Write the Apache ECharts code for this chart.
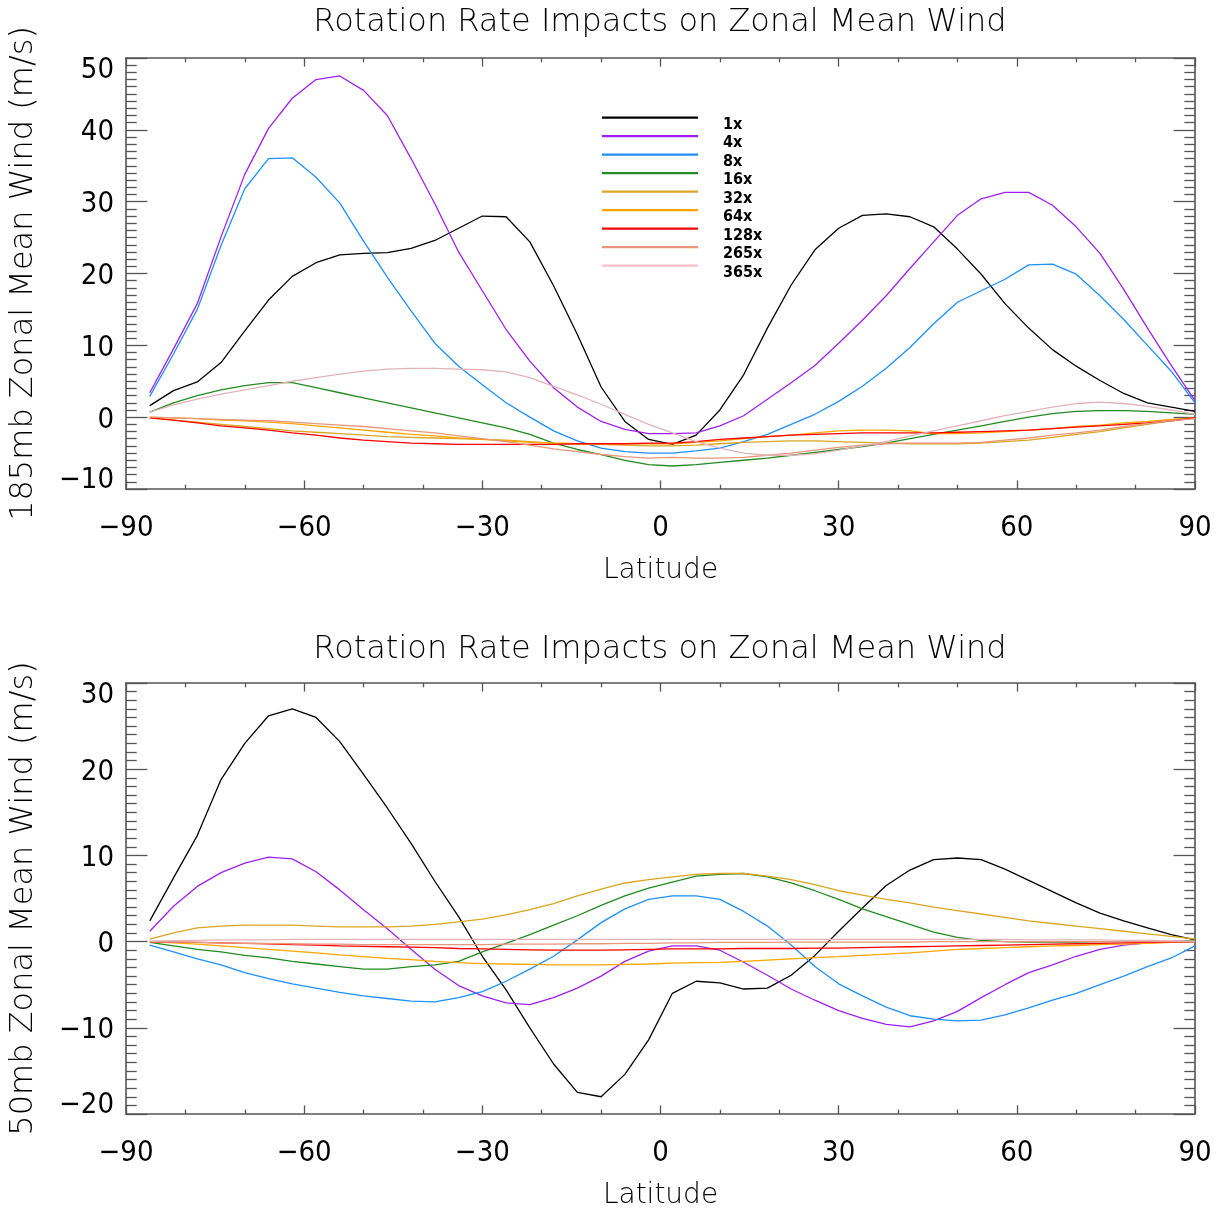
<!DOCTYPE html>
<html>
<head>
<meta charset="utf-8">
<script src="https://cdn.jsdelivr.net/npm/echarts@6/dist/echarts.min.js"></script>
<style>
html,body{margin:0;padding:0;background:#ffffff;}
#chart{width:1222px;height:1213px;}
</style>
</head>
<body>
<div id="chart"></div>
<script>
// ---- data ----
const lat = [-86,-82,-78,-74,-70,-66,-62,-58,-54,-50,-46,-42,-38,-34,-30,-26,-22,-18,-14,-10,-6,-2,
             2,6,10,14,18,22,26,30,34,38,42,46,50,54,58,62,66,70,74,78,82,86,90];

const seriesNames = ['1x','4x','8x','16x','32x','64x','128x','265x','365x'];

// 185 mb zonal mean wind (m/s)
const w185_1x   = [1.6,3.7,4.9,7.6,12.0,16.3,19.6,21.5,22.6,22.8,22.9,23.5,24.6,26.3,28.0,27.9,24.4,18.3,11.5,4.2,-0.6,-3.1,
                   -3.8,-2.5,1.0,5.9,12.4,18.4,23.3,26.3,28.1,28.3,27.9,26.5,23.4,19.9,15.8,12.4,9.4,7.1,5.1,3.3,2.0,1.4,0.8];
const w185_4x   = [3.4,9.5,15.8,25.1,33.8,40.2,44.4,47.0,47.5,45.5,42.0,36.0,29.7,23.0,17.6,12.2,7.8,4.1,1.4,-0.6,-1.7,-2.3,
                   -2.3,-2.2,-1.2,0.2,2.5,4.8,7.2,10.3,13.5,16.9,20.7,24.4,28.1,30.4,31.3,31.3,29.5,26.5,22.8,17.8,12.4,7.2,2.3];
const w185_8x   = [2.9,8.8,15.0,23.9,31.8,36.0,36.1,33.4,29.8,24.5,19.5,14.8,10.3,7.1,4.5,2.0,0.0,-1.9,-3.3,-4.3,-4.8,-5.0,
                   -5.0,-4.7,-4.3,-3.4,-2.4,-1.0,0.4,2.2,4.3,6.8,9.7,13.0,16.0,17.6,19.2,21.2,21.3,19.9,16.9,13.6,10.0,6.4,2.0];
const w185_16x  = [0.7,2.0,3.0,3.8,4.4,4.8,4.8,4.1,3.4,2.7,2.0,1.3,0.6,-0.1,-0.8,-1.5,-2.4,-3.6,-4.5,-5.2,-6.0,-6.6,
                   -6.8,-6.6,-6.3,-6.0,-5.7,-5.3,-4.9,-4.5,-4.1,-3.6,-3.0,-2.4,-1.8,-1.2,-0.6,0.0,0.5,0.8,0.9,0.9,0.8,0.6,0.4];
const w185_32x  = [-0.1,-0.4,-0.7,-1.0,-1.3,-1.6,-1.9,-2.1,-2.3,-2.5,-2.7,-2.8,-2.9,-3.0,-3.1,-3.2,-3.4,-3.6,-3.7,-3.8,-3.9,-4.0,
                   -4.0,-3.9,-3.7,-3.5,-3.4,-3.3,-3.3,-3.4,-3.5,-3.6,-3.7,-3.7,-3.7,-3.6,-3.4,-3.2,-2.8,-2.4,-2.0,-1.5,-1.0,-0.5,-0.1];
const w185_64x  = [0.0,-0.1,-0.2,-0.4,-0.5,-0.7,-0.9,-1.2,-1.5,-1.8,-2.1,-2.4,-2.6,-2.9,-3.1,-3.3,-3.5,-3.6,-3.7,-3.7,-3.7,-3.7,
                   -3.7,-3.5,-3.3,-3.0,-2.7,-2.5,-2.2,-1.9,-1.8,-1.8,-1.9,-2.3,-2.3,-2.2,-2.0,-1.8,-1.6,-1.3,-1.1,-0.8,-0.6,-0.3,-0.1];
const w185_128x = [-0.1,-0.4,-0.8,-1.2,-1.5,-1.8,-2.2,-2.5,-2.9,-3.2,-3.4,-3.6,-3.7,-3.8,-3.8,-3.8,-3.8,-3.8,-3.7,-3.7,-3.7,-3.6,
                   -3.6,-3.4,-3.1,-2.9,-2.7,-2.5,-2.4,-2.3,-2.2,-2.2,-2.2,-2.2,-2.1,-2.0,-1.9,-1.8,-1.6,-1.4,-1.2,-1.0,-0.8,-0.5,-0.1];
const w185_265x = [0.0,-0.1,-0.2,-0.3,-0.4,-0.5,-0.7,-0.9,-1.1,-1.3,-1.6,-1.9,-2.2,-2.6,-3.0,-3.4,-3.9,-4.4,-4.8,-5.2,-5.5,-5.7,
                   -5.6,-5.7,-5.7,-5.6,-5.3,-5.0,-4.6,-4.2,-3.9,-3.7,-3.6,-3.6,-3.6,-3.5,-3.2,-2.9,-2.5,-2.2,-1.8,-1.3,-0.9,-0.5,-0.2];
const w185_365x = [0.7,1.7,2.5,3.2,3.8,4.4,5.0,5.5,6.0,6.4,6.7,6.8,6.8,6.7,6.6,6.3,5.5,4.3,3.1,1.8,0.4,-1.0,
                   -2.2,-3.4,-4.3,-5.0,-5.3,-5.3,-5.1,-4.6,-4.0,-3.4,-2.6,-1.9,-1.2,-0.5,0.2,0.8,1.4,1.9,2.1,1.9,1.5,1.0,0.4];

// 50 mb zonal mean wind (m/s)
const w50_1x   = [2.4,7.4,12.3,18.8,23.0,26.2,27.0,26.0,23.2,19.4,15.5,11.4,7.0,2.9,-1.7,-5.6,-10.0,-14.2,-17.5,-18.0,-15.4,-11.4,
                  -6.0,-4.6,-4.8,-5.5,-5.4,-3.9,-1.6,1.2,3.9,6.5,8.3,9.5,9.7,9.5,8.4,7.1,5.8,4.5,3.3,2.4,1.6,0.8,0.2];
const w50_4x   = [1.2,4.1,6.4,8.0,9.1,9.8,9.6,8.1,6.0,3.7,1.5,-0.9,-3.2,-5.1,-6.3,-7.1,-7.3,-6.5,-5.4,-4.0,-2.3,-1.1,
                  -0.5,-0.5,-1.0,-2.4,-3.9,-5.5,-6.8,-8.0,-8.9,-9.6,-9.9,-9.2,-8.1,-6.5,-5.0,-3.6,-2.7,-1.7,-0.9,-0.4,-0.15,-0.05,0.0];
const w50_8x   = [-0.4,-1.2,-2.0,-2.7,-3.6,-4.3,-4.9,-5.4,-5.9,-6.3,-6.6,-6.9,-7.0,-6.5,-5.8,-4.6,-3.2,-1.7,0.2,2.2,3.8,4.9,
                  5.3,5.3,4.9,3.5,1.8,-0.4,-2.9,-4.9,-6.3,-7.6,-8.6,-9.0,-9.2,-9.1,-8.5,-7.7,-6.8,-6.0,-5.0,-4.0,-2.9,-1.9,-0.5];
const w50_16x  = [-0.1,-0.5,-0.9,-1.2,-1.6,-1.9,-2.3,-2.6,-2.9,-3.2,-3.2,-2.9,-2.7,-2.3,-1.2,-0.2,0.8,1.9,3.0,4.2,5.3,6.2,
                  6.9,7.6,7.8,7.9,7.5,6.8,5.9,4.9,3.8,2.9,2.0,1.1,0.5,0.15,0.0,-0.05,-0.05,-0.05,0.0,0.0,0.0,0.05,0.1];
const w50_32x  = [0.3,1.0,1.6,1.8,1.9,1.9,1.9,1.8,1.7,1.7,1.7,1.8,2.0,2.3,2.6,3.1,3.7,4.4,5.3,6.1,6.8,7.2,
                  7.5,7.8,7.9,7.9,7.6,7.2,6.6,5.9,5.4,4.9,4.5,4.0,3.6,3.2,2.8,2.4,2.1,1.8,1.5,1.2,0.9,0.6,0.3];
const w50_64x  = [0.0,-0.15,-0.3,-0.5,-0.7,-0.9,-1.1,-1.3,-1.55,-1.75,-1.95,-2.1,-2.3,-2.45,-2.55,-2.6,-2.65,-2.7,-2.7,-2.7,-2.65,-2.6,
                  -2.5,-2.45,-2.4,-2.3,-2.15,-2.0,-1.85,-1.75,-1.6,-1.45,-1.3,-1.1,-0.9,-0.8,-0.7,-0.6,-0.5,-0.45,-0.35,-0.3,-0.2,-0.1,0.0];
const w50_128x = [0.0,-0.05,-0.1,-0.15,-0.2,-0.25,-0.35,-0.4,-0.5,-0.55,-0.6,-0.65,-0.7,-0.8,-0.85,-0.9,-0.95,-1.0,-1.0,-1.0,-0.95,-0.9,
                  -0.85,-0.85,-0.85,-0.8,-0.8,-0.8,-0.75,-0.75,-0.7,-0.65,-0.6,-0.55,-0.5,-0.45,-0.4,-0.35,-0.3,-0.25,-0.2,-0.15,-0.1,-0.05,0.0];
const w50_265x = [0.0,-0.05,-0.1,-0.15,-0.2,-0.2,-0.25,-0.3,-0.3,-0.35,-0.35,-0.35,-0.35,-0.35,-0.35,-0.3,-0.3,-0.3,-0.25,-0.25,-0.2,-0.2,
                  -0.15,-0.15,-0.1,-0.1,-0.1,-0.05,-0.05,-0.05,-0.05,-0.05,-0.05,0.0,0.0,0.0,0.0,0.0,0.0,0.0,0.0,0.0,0.0,0.0,0.0];
const w50_365x = [0.05,0.1,0.15,0.2,0.2,0.2,0.25,0.25,0.25,0.25,0.25,0.25,0.25,0.25,0.25,0.25,0.25,0.25,0.25,0.25,0.25,0.25,
                  0.25,0.25,0.25,0.25,0.25,0.25,0.25,0.25,0.25,0.25,0.25,0.25,0.25,0.25,0.25,0.2,0.2,0.2,0.2,0.15,0.15,0.1,0.05];

// ---- styling ----
const lineColors   = ['#000000','#a020f0','#1e90ff','#228b22','#daa520','#ffa500','#ff0000','#e9967a','#e2b3b9'];
const legendColors = ['#000000','#a020f0','#1e90ff','#228b22','#daa520','#ffa500','#ff0000','#e9967a','#ffc0cb'];
const FRAME = '#555555';
const TEXTFONT = "'DejaVu Sans', sans-serif";
const TICKFONT = "'DejaVu Sans Condensed', 'DejaVu Sans', sans-serif";
const TITLE = 'Rotation Rate Impacts on Zonal Mean Wind';

const data185 = [w185_1x,w185_4x,w185_8x,w185_16x,w185_32x,w185_64x,w185_128x,w185_265x,w185_365x];
const data50  = [w50_1x,w50_4x,w50_8x,w50_16x,w50_32x,w50_64x,w50_128x,w50_265x,w50_365x];

function fmt(v){ return String(v).replace('-', '\u2212'); }

function xAxisPair(gi){
  const common = {
    type:'value', gridIndex:gi, min:-90, max:90, interval:30,
    axisLine:{show:true, onZero:false, lineStyle:{color:FRAME, width:1.6}},
    axisTick:{show:true, inside:true, length:8.6, lineStyle:{color:FRAME, width:1.3}},
    minorTick:{show:true, splitNumber:3, length:4.3, lineStyle:{color:FRAME, width:1.3}},
    splitLine:{show:false}, minorSplitLine:{show:false}
  };
  return [
    Object.assign({}, common, {
      position:'bottom',
      axisLabel:{show:true, margin:25, fontSize:29, fontFamily:TICKFONT, color:'#000',
                 showMinLabel:true, showMaxLabel:true, formatter:fmt},
      name:'Latitude', nameLocation:'middle', nameGap:68,
      nameTextStyle:{fontSize:28, fontFamily:TEXTFONT, fontWeight:200, color:'#000'}
    }),
    Object.assign({}, common, {position:'top', axisLabel:{show:false}})
  ];
}

function yAxisPair(gi, mn, mx, label){
  const common = {
    type:'value', gridIndex:gi, min:mn, max:mx, interval:10,
    axisLine:{show:true, onZero:false, lineStyle:{color:FRAME, width:1.6}},
    axisTick:{show:true, inside:true, length:21.4, lineStyle:{color:FRAME, width:1.3}},
    minorTick:{show:true, splitNumber:10, length:10.7, lineStyle:{color:FRAME, width:1.3}},
    splitLine:{show:false}, minorSplitLine:{show:false}
  };
  const rs = {fontSize:29, fontFamily:TICKFONT, color:'#000'};
  return [
    Object.assign({}, common, {
      position:'left',
      axisLabel:{show:true, margin:12, fontSize:29, fontFamily:TICKFONT, color:'#000',
        showMinLabel:true, showMaxLabel:true,
        formatter:function(v){
          const s = fmt(v);
          if (v === mx) return '{hi|' + s + '}';
          if (v === mn) return '{lo|' + s + '}';
          return '{mid|' + s + '}';
        },
        rich:{
          hi:Object.assign({padding:[24,0,0,0]}, rs),
          lo:Object.assign({padding:[0,0,18,0]}, rs),
          mid:Object.assign({padding:[6,0,0,0]}, rs)
        }
      },
      name:label, nameLocation:'middle', nameRotate:90, nameGap:86,
      nameTextStyle:{fontSize:32, fontFamily:TEXTFONT, fontWeight:200, color:'#000'}
    }),
    Object.assign({}, common, {position:'right', axisLabel:{show:false}})
  ];
}

const series = [];
[data185, data50].forEach(function(set, gi){
  set.forEach(function(arr, i){
    series.push({
      type:'line', name:seriesNames[i], xAxisIndex:gi*2, yAxisIndex:gi*2,
      data: lat.map(function(la, k){ return [la, arr[k]]; }),
      symbol:'none', showSymbol:false, smooth:false, clip:true,
      lineStyle:{color:lineColors[i], width:1.3},
      itemStyle:{color:lineColors[i]},
      emphasis:{disabled:true}, silent:true
    });
  });
});

// legend icon: thin bar sitting at the top of the icon box, so the label sits below the line
const LEGEND_ICON = 'path://M0,0L96,0L96,2.2L0,2.2ZM0,16L0.01,16';

const option = {
  backgroundColor:'#ffffff',
  animation:false,
  title:[
    {text:TITLE, left:660, top:7, textAlign:'center', padding:0,
     textStyle:{fontSize:32, fontFamily:TEXTFONT, fontWeight:200, color:'#000'}},
    {text:TITLE, left:660, top:634, textAlign:'center', padding:0,
     textStyle:{fontSize:32, fontFamily:TEXTFONT, fontWeight:200, color:'#000'}}
  ],
  legend:{
    orient:'vertical', left:602, top:116.5, padding:0,
    itemWidth:96, itemHeight:16, itemGap:2.5,
    icon:LEGEND_ICON,
    selectedMode:false,
    data: seriesNames.map(function(n, i){
      return {name:n, icon:LEGEND_ICON,
              itemStyle:{color:legendColors[i], borderWidth:0},
              lineStyle:{color:legendColors[i], width:0}};
    }),
    textStyle:{fontSize:16, lineHeight:16, fontWeight:'bold', fontFamily:TICKFONT, color:'#000', padding:[0,0,0,20]}
  },
  grid:[
    {left:125, top:58, width:1070, height:431, containLabel:false},
    {left:125, top:683, width:1070, height:431, containLabel:false}
  ],
  xAxis: xAxisPair(0).concat(xAxisPair(1)),
  yAxis: yAxisPair(0, -10, 50, '185mb Zonal Mean Wind (m/s)').concat(yAxisPair(1, -20, 30, '50mb Zonal Mean Wind (m/s)')),
  series: series
};

const chart = echarts.init(document.getElementById('chart'), null, {renderer:'canvas'});
chart.setOption(option);
</script>
</body>
</html>
